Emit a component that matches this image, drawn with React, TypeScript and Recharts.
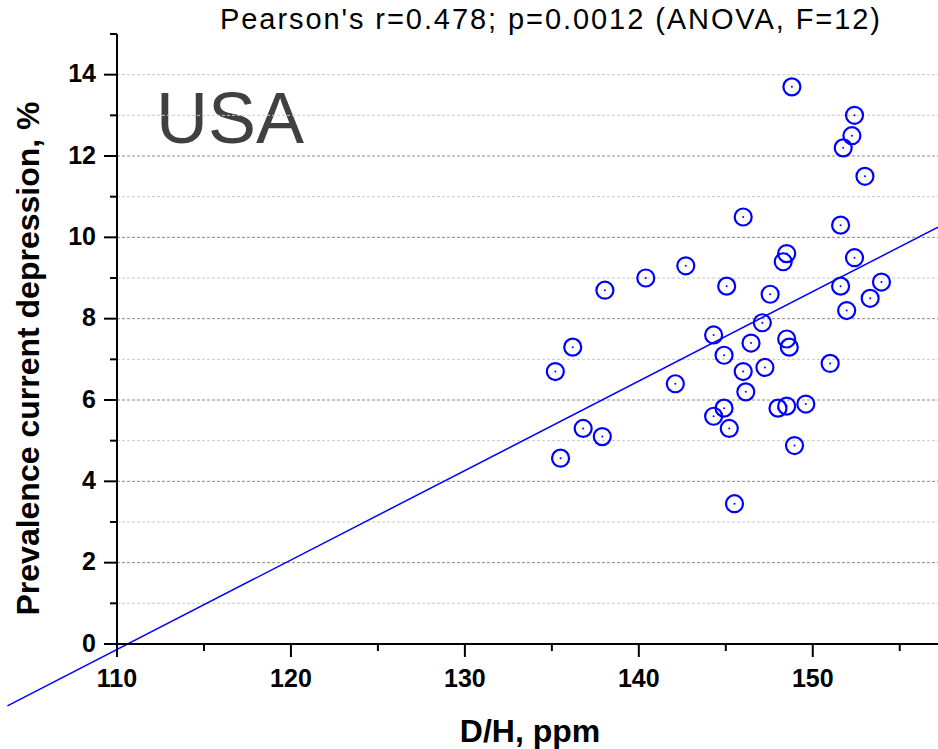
import React from "react";
import {
  ScatterChart,
  Scatter,
  XAxis,
  YAxis,
  ReferenceLine,
} from "recharts";

// D/H (ppm) and prevalence of current depression (%) per state
const dhValues = [
  135.2, 136.2, 135.5, 136.8, 137.9, 138.05, 140.4, 142.1, 142.7, 145.05,
  144.3, 144.9, 144.3, 144.9, 145.2, 145.5, 148.8, 152.4, 152.25, 151.75,
  153.0, 146.0, 151.6, 148.5, 148.3, 152.4, 147.55, 151.6, 153.95, 153.3,
  151.95, 147.1, 146.45, 148.5, 148.65, 147.25, 146.0, 151.0, 146.15, 148.5,
  148.0, 149.6, 148.95,
];
const depressionValues = [
  6.7, 7.3, 4.57, 5.3, 5.1, 8.7, 9.0, 6.4, 9.3, 8.8,
  7.6, 7.1, 5.6, 5.8, 5.3, 3.45, 13.7, 13.0, 12.5, 12.2,
  11.5, 10.5, 10.3, 9.6, 9.4, 9.5, 8.6, 8.8, 8.9, 8.5,
  8.2, 7.9, 7.4, 7.5, 7.3, 6.8, 6.7, 6.9, 6.2, 5.85,
  5.8, 5.9, 4.88,
];

// linear fit end points
const fitX = [103.7, 157.2];
const fitY = [-1.52, 10.25];

const xTicks = [110, 115, 120, 125, 130, 135, 140, 145, 150, 155];
const yTicks = [0, 1, 2, 3, 4, 5, 6, 7, 8, 9, 10, 11, 12, 13, 14, 15];
const darkGrid = [2, 4, 6, 8, 10, 12];
const lightGrid = [1, 3, 5, 7, 9, 11, 13, 14];

const data = dhValues.map((x, i) => ({ x, y: depressionValues[i] }));

const FONT = "'Liberation Sans', Arial, Helvetica, sans-serif";
const BLUE = "#0000ff";

const XTick = (props: any) => {
  const { x, y, payload } = props;
  const major = payload.value % 10 === 0;
  return (
    <g>
      <line x1={x} x2={x} y1={y} y2={y + (major ? 13 : 7)} stroke="#000" strokeWidth={2} />
      {major && (
        <text x={x} y={y + 43} textAnchor="middle" fontFamily={FONT} fontWeight="bold" fontSize={25} fill="#000">
          {payload.value}
        </text>
      )}
    </g>
  );
};

const YTick = (props: any) => {
  const { x, y, payload } = props;
  const major = payload.value % 2 === 0;
  return (
    <g>
      <line x1={x - (major ? 13 : 7)} x2={x} y1={y} y2={y} stroke="#000" strokeWidth={2} />
      {major && (
        <text x={x - 21} y={y + 7.5} textAnchor="end" fontFamily={FONT} fontWeight="bold" fontSize={25} fill="#000">
          {payload.value}
        </text>
      )}
    </g>
  );
};

const Ring = (props: any) => {
  const { cx, cy } = props;
  return (
    <g>
      <circle cx={cx} cy={cy} r={8.5} fill="none" stroke={BLUE} strokeWidth={2.2} />
      <circle cx={cx} cy={cy} r={1} fill={BLUE} />
    </g>
  );
};

export default function App() {
  return (
    <div style={{ position: "absolute", left: 0, top: 0, background: "#fff" }}>
      <ScatterChart
        width={938}
        height={749}
        margin={{ top: 34, right: 0, left: 57, bottom: 45 }}
      >
        <XAxis
          type="number"
          dataKey="x"
          domain={[110, 157.2]}
          allowDataOverflow
          ticks={xTicks}
          interval={0}
          height={60}
          tickSize={0}
          tickMargin={0}
          tickLine={false}
          axisLine={{ stroke: "#000", strokeWidth: 2 }}
          tick={<XTick />}
          label={{
            content: () => (
              <text x={530} y={742} textAnchor="middle" fontFamily={FONT} fontWeight="bold" fontSize={32} fill="#000">
                D/H, ppm
              </text>
            ),
          }}
        />
        <YAxis
          type="number"
          dataKey="y"
          domain={[0, 15]}
          allowDataOverflow
          ticks={yTicks}
          interval={0}
          width={60}
          tickSize={0}
          tickMargin={0}
          tickLine={false}
          axisLine={{ stroke: "#000", strokeWidth: 2 }}
          tick={<YTick />}
          label={{
            content: () => (
              <text
                transform="translate(39, 358.5) rotate(-90)"
                textAnchor="middle"
                fontFamily={FONT}
                fontWeight="bold"
                fontSize={32}
                fill="#000"
              >
                Prevalence current depression, %
              </text>
            ),
          }}
        />
        {lightGrid.map((v) => (
          <ReferenceLine key={"l" + v} y={v} stroke="#c8c8c8" strokeWidth={1} strokeDasharray="3 2" />
        ))}
        {darkGrid.map((v) => (
          <ReferenceLine key={"d" + v} y={v} stroke="#8a8a8a" strokeWidth={1} strokeDasharray="3 2" />
        ))}
        <ReferenceLine
          segment={[
            { x: fitX[0], y: fitY[0] },
            { x: fitX[1], y: fitY[1] },
          ]}
          ifOverflow="visible"
          stroke={BLUE}
          strokeWidth={1.5}
        />
        <Scatter data={data} shape={<Ring />} isAnimationActive={false} />
        <text x={220} y={29} textLength={660} fontFamily={FONT} fontSize={29} fill="#000">
          Pearson's r=0.478; p=0.0012 (ANOVA, F=12)
        </text>
        <text x={156} y={143} fontFamily={FONT} fontSize={72} fill="#404040">
          USA
        </text>
      </ScatterChart>
    </div>
  );
}
